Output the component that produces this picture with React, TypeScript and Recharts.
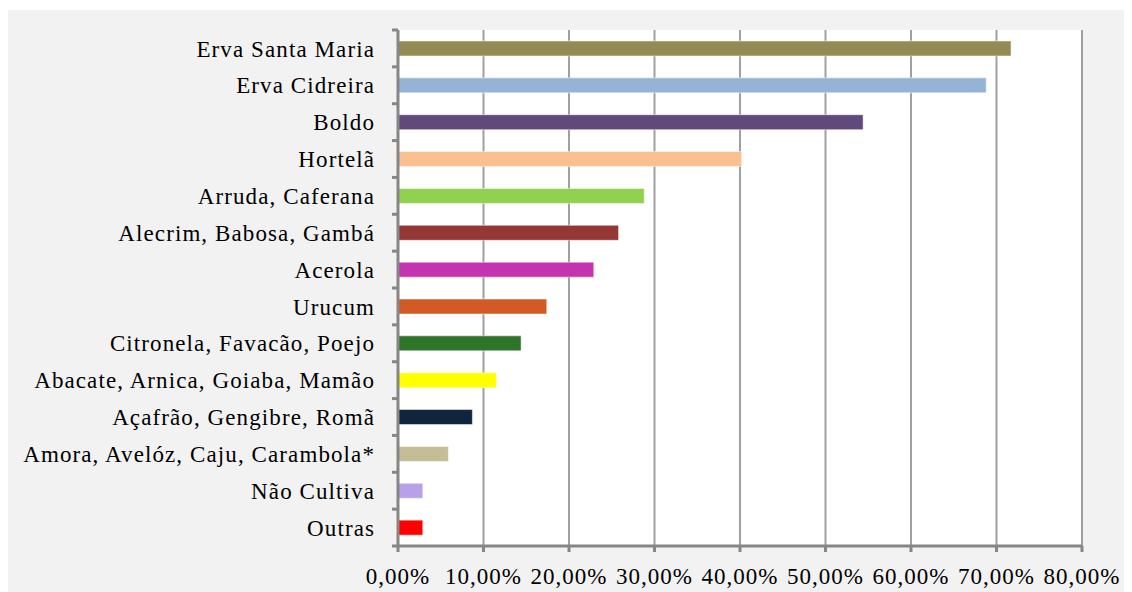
import { BarChart, Bar, XAxis, YAxis, CartesianGrid, Cell } from 'recharts';

const categories = [
  'Erva Santa Maria',
  'Erva Cidreira ',
  'Boldo',
  'Hortelã',
  'Arruda, Caferana',
  'Alecrim, Babosa, Gambá',
  'Acerola',
  'Urucum',
  'Citronela, Favacão,  Poejo',
  'Abacate, Arnica, Goiaba, Mamão',
  'Açafrão, Gengibre, Romã',
  'Amora, Avelóz, Caju, Carambola*',
  'Não Cultiva',
  'Outras',
];

const percentages = [71.7, 68.8, 54.4, 40.2, 28.8, 25.8, 22.9, 17.4, 14.4, 11.5, 8.7, 5.9, 2.9, 2.9];

const barColors = [
  '#948A54', '#95B3D7', '#604A7B', '#FAC090', '#92D050', '#953735', '#C433B0',
  '#D35A22', '#2E7529', '#FFFF00', '#10243E', '#C4BD97', '#B9A0E8', '#FF0000',
];

const xTicks = [0, 10, 20, 30, 40, 50, 60, 70, 80];

const data = categories.map((name, i) => ({ name, value: percentages[i] }));

const AXIS_COLOR = '#868686';
const FONT = "'Liberation Serif', 'Times New Roman', Times, serif";
const Y_TICK_SIZE = 6;
const Y_TICK_MARGIN = 17;

const formatPercent = (v: number) => `${v.toFixed(2).replace('.', ',')}%`;

// Excel draws the category ticks on the band edges, not the band centres
const CategoryTick = (props: any) => {
  const { x, y, payload, index, visibleTicksCount } = props;
  const half = payload?.offset ?? 0;
  const lx1 = x + Y_TICK_MARGIN;
  const lx2 = lx1 + Y_TICK_SIZE;
  return (
    <g>
      <line x1={lx1} x2={lx2} y1={y - half} y2={y - half} stroke={AXIS_COLOR} strokeWidth={3} />
      {index === visibleTicksCount - 1 && (
        <line x1={lx1} x2={lx2} y1={y + half} y2={y + half} stroke={AXIS_COLOR} strokeWidth={3} />
      )}
      <text
        x={x}
        y={y}
        dy="0.355em"
        textAnchor="end"
        fill="#000"
        style={{ fontFamily: FONT, fontSize: 23, letterSpacing: 1.1 }}
      >
        {payload.value}
      </text>
    </g>
  );
};

export default function App() {
  return (
    <div style={{ width: 1124, height: 582, marginTop: 2, background: '#F2F2F2', fontFamily: FONT }}>
      <BarChart
        layout="vertical"
        width={1124}
        height={582}
        data={data}
        margin={{ top: 20, right: 50, left: 0, bottom: 0 }}
        barCategoryGap={0}
        style={{ fontFamily: FONT }}
      >
        <CartesianGrid
          horizontal={false}
          stroke="#A0A0A0"
          strokeWidth={2}
          fill="#FFFFFF"
          fillOpacity={1}
        />
        <XAxis
          type="number"
          domain={[0, 80]}
          ticks={xTicks}
          interval={0}
          height={46}
          tickFormatter={formatPercent}
          stroke={AXIS_COLOR}
          strokeWidth={3}
          tickSize={6}
          tickMargin={16}
          tick={{ fill: '#000', style: { fontFamily: FONT, fontSize: 23, letterSpacing: 1 } }}
        />
        <YAxis
          type="category"
          dataKey="name"
          width={390}
          interval={0}
          stroke={AXIS_COLOR}
          strokeWidth={3}
          tickLine={false}
          tickSize={Y_TICK_SIZE}
          tickMargin={Y_TICK_MARGIN}
          tick={<CategoryTick />}
        />
        <Bar dataKey="value" barSize={15} isAnimationActive={false}>
          {data.map((d, i) => (
            <Cell key={d.name} fill={barColors[i]} stroke="#ffffff" strokeOpacity={0.5} strokeWidth={1} />
          ))}
        </Bar>
      </BarChart>
    </div>
  );
}
